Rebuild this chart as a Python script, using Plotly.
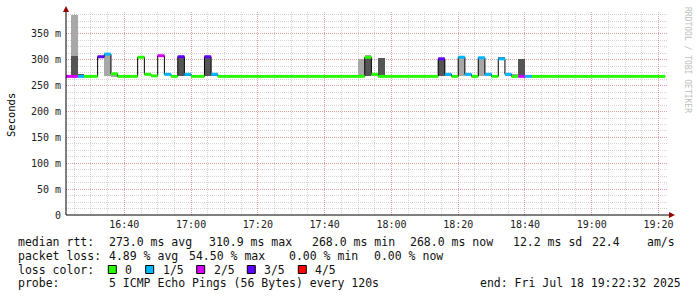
import plotly.graph_objects as go
import pandas as pd

# ---------------- data ----------------
range_start = "2025-07-18 16:22:32"
range_end = "2025-07-18 19:22:32"
first_sample = "2025-07-18 16:22:00"
step_seconds = 120

median_ms = [
    268, 268, 268, 268, 268, 306, 311, 273, 268, 268,
    268, 305, 272, 269, 308, 272, 268, 306, 272, 268,
    268, 306, 272, 268, 268, 268, 268, 268, 268, 268,
    268, 268, 268, 268, 268, 268, 268, 268, 268, 268,
    268, 268, 268, 268, 268, 305, 272, 268, 268, 268,
    268, 268, 268, 268, 268, 268, 302, 272, 268, 305,
    272, 268, 304, 272, 268, 302, 272, 268, 268, 268,
    268, 268, 268, 268, 268, 268, 268, 268, 268, 268,
    268, 268, 268, 268, 268, 268, 268, 268, 268, 268,
]
loss_count = [
    2, 2, 1, 0, 0, 3, 1, 0, 0, 0,
    0, 0, 0, 0, 2, 1, 0, 3, 1, 0,
    0, 3, 1, 0, 0, 0, 0, 0, 0, 0,
    0, 0, 0, 0, 0, 0, 0, 0, 0, 0,
    0, 0, 0, 0, 0, 0, 0, 0, 0, 0,
    0, 0, 0, 0, 0, 0, 3, 1, 0, 1,
    1, 0, 1, 1, 0, 1, 1, 0, 2, 1,
    0, 0, 0, 0, 0, 0, 0, 0, 0, 0,
    0, 0, 0, 0, 0, 0, 0, 0, 0, 0,
]
# smoke (ping spread) per sample index
dark_idx = [1, 2, 17, 18, 21, 22, 45, 47, 56, 57, 65, 68]
dark_lo = [268, 268, 268, 268, 268, 268, 268, 268, 268, 268, 303, 268]
dark_hi = [307, 272, 306, 272, 306, 272, 305, 304, 302, 272, 306, 302]
light_idx = [1, 6, 7, 44, 45, 46, 59, 60, 62, 63, 66, 67]
light_lo = [307, 268, 266, 268, 305, 268, 268, 268, 268, 268, 268, 268]
light_hi = [387, 311, 273, 302, 309, 272, 305, 272, 304, 272, 272, 272]

loss_labels = ["0", "1/5", "2/5", "3/5", "4/5"]
loss_colors = ["#26ff00", "#00b8ff", "#d600ff", "#5e00ff", "#ff0000"]

x_tick_labels = ["16:40", "17:00", "17:20", "17:40", "18:00",
                 "18:20", "18:40", "19:00", "19:20"]
y_tick_values = [0, 50, 100, 150, 200, 250, 300, 350]
y_tick_labels = ["0", "50 m", "100 m", "150 m", "200 m", "250 m", "300 m", "350 m"]

legend_lines = [
    [("median rtt:", 16), ("273.0 ms avg", 107), ("310.9 ms max", 207),
     ("268.0 ms min", 310), ("268.0 ms now", 407.5), ("12.2 ms sd", 510.5),
     ("22.4", 590), ("am/s", 645)],
    [("packet loss:", 16), ("4.89 % avg", 107), ("54.50 % max", 187),
     ("0.00 % min", 287), ("0.00 % now", 372)],
    [("loss color:", 16)],
    [("probe:", 16), ("5 ICMP Echo Pings (56 Bytes) every 120s", 107),
     ("end: Fri Jul 18 19:22:32 2025", 478)],
]

# ---------------- build ----------------
W, H = 697, 297
ML, MR, MT, MB = 66, 30, 12, 82
PW, PH = W - ML - MR, H - MT - MB
FONT = "DejaVu Sans Mono"


def px_x(px):
    return (px - ML) / PW


def px_y(py):
    return (H - MB - py) / PH


step = pd.Timedelta(seconds=step_seconds)
starts = [pd.Timestamp(first_sample) + step * i for i in range(len(median_ms))]
centers = [s + step / 2 for s in starts]
ends = [s + step for s in starts]

fig = go.Figure()

# smoke
fig.add_trace(go.Bar(
    x=[centers[i] for i in light_idx],
    y=[h - l for l, h in zip(light_lo, light_hi)],
    base=light_lo, width=[step_seconds * 1000] * len(light_idx),
    marker=dict(color="#a8a8a8", line=dict(width=0)), showlegend=False,
    hoverinfo="skip"))
fig.add_trace(go.Bar(
    x=[centers[i] for i in dark_idx],
    y=[h - l for l, h in zip(dark_lo, dark_hi)],
    base=dark_lo, width=[step_seconds * 1000] * len(dark_idx),
    marker=dict(color="#555555", line=dict(width=0)), showlegend=False,
    hoverinfo="skip"))

# black step line
fig.add_trace(go.Scatter(
    x=starts + [ends[-1]], y=median_ms + [median_ms[-1]],
    mode="lines", line=dict(color="black", width=1, shape="hv"),
    showlegend=False, hoverinfo="skip"))

# colored median segments by loss
for lvl, col in enumerate(loss_colors):
    xs, ys = [], []
    for i, (m, l) in enumerate(zip(median_ms, loss_count)):
        if l == lvl:
            xs += [starts[i], ends[i], None]
            ys += [m, m, None]
    if xs:
        fig.add_trace(go.Scatter(x=xs, y=ys, mode="lines",
                                 line=dict(color=col, width=3),
                                 showlegend=False, hoverinfo="skip"))

day = pd.Timestamp(first_sample).strftime("%Y-%m-%d")
x_tick_vals = [pd.Timestamp(f"{day} {t}") for t in x_tick_labels]

major = "rgba(240,110,110,0.5)"
minor = "rgba(150,150,150,0.4)"
dash = "1px,1px"

fig.update_layout(
    width=W, height=H, autosize=False,
    margin=dict(l=ML, r=MR, t=MT, b=MB, pad=0),
    paper_bgcolor="white", plot_bgcolor="white",
    barmode="overlay", bargap=0,
    showlegend=False,
    font=dict(family=FONT, color="black"),
    xaxis=dict(
        type="date", range=[range_start, range_end],
        tickvals=x_tick_vals, ticktext=x_tick_labels,
        tickfont=dict(family=FONT, size=10, color="#222"),
        showgrid=True, gridcolor=major, griddash=dash, gridwidth=1,
        minor=dict(dtick=300000, showgrid=True, gridcolor=minor,
                   griddash=dash, gridwidth=1, tick0=x_tick_vals[0]),
        zeroline=False, showline=False, ticks="", ticklabelstandoff=2,
        fixedrange=True,
    ),
    yaxis=dict(
        range=[0, 392.5],
        tickvals=y_tick_values, ticktext=y_tick_labels,
        tickfont=dict(family=FONT, size=10, color="#222"),
        showgrid=True, gridcolor=major, griddash=dash, gridwidth=1,
        minor=dict(dtick=12.5, tick0=0, showgrid=True, gridcolor=minor,
                   griddash=dash, gridwidth=1),
        zeroline=False, showline=False, ticks="", ticklabelstandoff=4,
        fixedrange=True,
    ),
)

shapes = []
# axes lines
shapes.append(dict(type="line", xref="paper", yref="paper",
                   x0=px_x(66), x1=px_x(670), y0=px_y(215), y1=px_y(215),
                   line=dict(color="black", width=1)))
shapes.append(dict(type="line", xref="paper", yref="paper",
                   x0=px_x(66), x1=px_x(66), y0=px_y(215), y1=px_y(9),
                   line=dict(color="black", width=1)))
# arrows
ax, ay = px_x, px_y
shapes.append(dict(type="path", xref="paper", yref="paper",
                   path=f"M {ax(63)} {ay(12)} L {ax(69)} {ay(12)} L {ax(66)} {ay(6)} Z",
                   fillcolor="#990000", line=dict(width=0)))
shapes.append(dict(type="path", xref="paper", yref="paper",
                   path=f"M {ax(669)} {ay(212)} L {ax(669)} {ay(218)} L {ax(675)} {ay(215)} Z",
                   fillcolor="#990000", line=dict(width=0)))

annotations = []
line_y = [241.7, 255.7, 269.5, 283.3]
for items, yy in zip(legend_lines, line_y):
    for text, xx in items:
        annotations.append(dict(
            text=text, xref="paper", yref="paper", x=px_x(xx), y=px_y(yy),
            xanchor="left", yanchor="middle", showarrow=False,
            font=dict(family=FONT, size=11.5, color="#111")))

# loss color boxes
box_x = [108.3, 145.7, 196.7, 247.3, 298.3]
for bx, lab, col in zip(box_x, loss_labels, loss_colors):
    shapes.append(dict(type="rect", xref="paper", yref="paper",
                       x0=px_x(bx), x1=px_x(bx + 8), y0=px_y(273.5), y1=px_y(265.5),
                       fillcolor=col, line=dict(color="black", width=1)))
    annotations.append(dict(
        text=lab, xref="paper", yref="paper", x=px_x(bx + 15), y=px_y(269.5),
        xanchor="left", yanchor="middle", showarrow=False,
        font=dict(family=FONT, size=11.5, color="#111")))

annotations.append(dict(
    text="Seconds", xref="paper", yref="paper", x=px_x(11), y=px_y(115),
    textangle=-90, xanchor="center", yanchor="middle", showarrow=False,
    font=dict(family=FONT, size=10.5, color="black")))
annotations.append(dict(
    text="RRDTOOL / TOBI OETIKER", xref="paper", yref="paper",
    x=px_x(688), y=px_y(60), textangle=90, xanchor="center", yanchor="middle",
    showarrow=False, font=dict(family=FONT, size=8, color="#c0c0c0")))

fig.update_layout(shapes=shapes, annotations=annotations)
fig.write_html("out.html")
